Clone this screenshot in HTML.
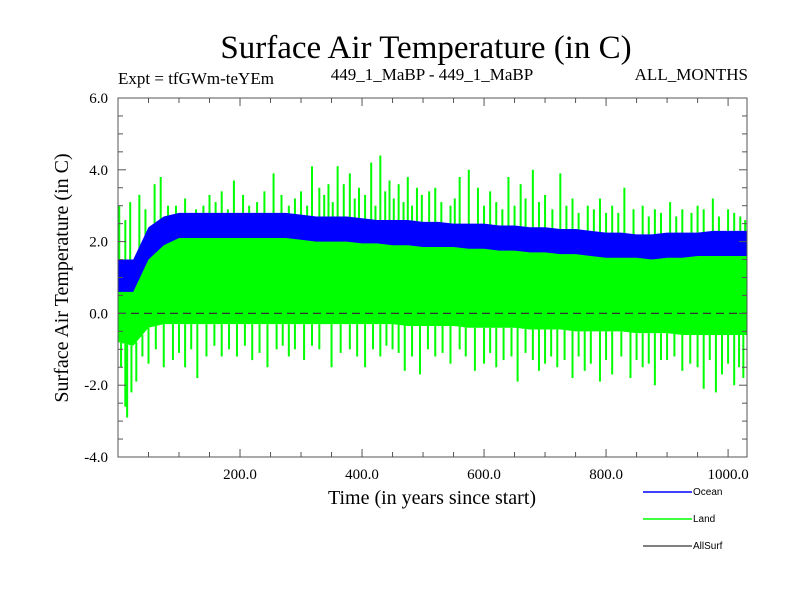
<!DOCTYPE html>
<html><head><meta charset="utf-8"><style>
body{margin:0;background:#fff}
svg{display:block}
text{font-family:"Liberation Serif",serif;fill:#000}
</style></head><body>
<svg id="chart" width="800" height="600" viewBox="0 0 800 600">
<text x="426" y="58" font-size="33" text-anchor="middle">Surface Air Temperature (in C)</text>
<text x="118" y="84" font-size="17">Expt = tfGWm-teYEm</text>
<text x="432" y="80" font-size="17" text-anchor="middle">449_1_MaBP - 449_1_MaBP</text>
<text x="748" y="80" font-size="17" text-anchor="end">ALL_MONTHS</text>
<text transform="translate(68,278) rotate(-90)" font-size="20" text-anchor="middle">Surface Air Temperature (in C)</text>
<text x="432" y="504" font-size="20" text-anchor="middle">Time (in years since start)</text>
<g id="plot"></g>
<g>
<line x1="643" y1="492" x2="692" y2="492" stroke="#0000ff" stroke-width="1.5"/>
<text x="693" y="495" font-size="10" style="font-family:'Liberation Sans',sans-serif">Ocean</text>
<line x1="643" y1="519" x2="692" y2="519" stroke="#00ff00" stroke-width="1.5"/>
<text x="693" y="522" font-size="10" style="font-family:'Liberation Sans',sans-serif">Land</text>
<line x1="643" y1="546" x2="692" y2="546" stroke="#000" stroke-width="1"/>
<text x="693" y="549" font-size="10" style="font-family:'Liberation Sans',sans-serif">AllSurf</text>
</g>
</svg>
<script>
const bandYears=[0,25,50,75,100,125,150,175,200,225,250,275,300,325,350,375,400,425,450,475,500,525,550,575,600,625,650,675,700,725,750,775,800,825,850,875,900,925,950,975,1000,1031];
const oceanHi=[1.5,1.5,2.4,2.7,2.8,2.8,2.8,2.8,2.8,2.8,2.8,2.8,2.75,2.7,2.7,2.7,2.65,2.6,2.6,2.6,2.55,2.55,2.5,2.5,2.5,2.45,2.45,2.4,2.4,2.35,2.35,2.3,2.25,2.25,2.2,2.2,2.25,2.25,2.25,2.3,2.3,2.3];
const oceanLo=[0.6,0.6,1.5,1.9,2.1,2.1,2.1,2.1,2.1,2.1,2.1,2.1,2.05,2.0,2.0,2.0,1.95,1.95,1.9,1.9,1.85,1.85,1.85,1.8,1.8,1.75,1.75,1.7,1.7,1.65,1.65,1.6,1.55,1.55,1.55,1.5,1.55,1.55,1.6,1.6,1.6,1.6];
const landHi=[1.2,1.1,1.8,2.1,2.2,2.2,2.2,2.2,2.2,2.2,2.2,2.2,2.15,2.1,2.1,2.1,2.05,2.05,2.0,2.0,1.95,1.95,1.95,1.9,1.9,1.85,1.85,1.8,1.8,1.75,1.75,1.7,1.65,1.65,1.65,1.6,1.65,1.65,1.7,1.7,1.7,1.7];
const landLo=[-0.8,-0.9,-0.4,-0.3,-0.3,-0.3,-0.3,-0.3,-0.3,-0.3,-0.3,-0.3,-0.3,-0.3,-0.3,-0.3,-0.3,-0.3,-0.3,-0.35,-0.35,-0.35,-0.35,-0.4,-0.4,-0.4,-0.4,-0.45,-0.45,-0.45,-0.5,-0.5,-0.5,-0.5,-0.55,-0.55,-0.55,-0.6,-0.6,-0.6,-0.6,-0.6];
const upYears=[2,20,35,60,70,95,110,150,170,190,205,240,255,268,300,318,330,345,360,370,380,395,415,430,445,460,475,490,510,520,560,575,590,610,640,660,680,700,725,745,770,790,810,830,860,880,905,925,950,975,1000,1020,
 12,45,82,128,140,160,180,215,228,280,290,310,338,352,388,405,422,438,452,468,482,498,530,545,552,600,620,630,650,668,690,712,735,755,780,800,820,845,870,890,915,940,960,985,1010,1028];
const upVals=[3.0,3.1,3.3,3.6,3.8,3.0,3.2,3.3,3.4,3.7,3.3,3.4,3.9,3.3,3.4,4.1,3.5,3.6,4.1,3.6,3.9,3.5,4.2,4.4,3.7,3.6,3.8,3.5,3.4,3.5,3.8,4.0,3.5,3.4,3.8,3.6,4.0,3.3,3.9,3.2,3.0,3.2,3.0,3.5,3.0,2.9,3.1,2.9,3.0,3.2,2.9,2.7,
 2.6,2.9,3.0,2.9,3.0,3.1,2.9,3.0,3.1,3.0,3.2,3.0,3.3,3.1,3.2,3.3,3.0,3.4,3.2,3.1,3.0,3.3,3.1,3.0,3.2,3.0,3.1,2.9,3.0,3.2,3.1,2.9,3.0,2.8,2.9,2.8,2.8,2.9,2.7,2.8,2.7,2.8,2.9,2.7,2.8,2.6];
const downYears=[5,12,15,22,30,50,75,90,110,130,145,170,195,220,245,260,290,305,350,380,405,430,450,470,495,520,545,560,585,600,620,655,690,700,720,745,765,790,810,840,860,880,900,925,960,980,990,1010,1025,
 40,62,100,120,158,182,208,232,270,280,318,330,365,392,418,440,460,482,508,532,570,610,632,645,668,680,710,732,755,775,800,825,850,870,890,912,938,950,970,1000,1018];
const downVals=[-1.5,-2.6,-2.9,-2.2,-1.9,-1.4,-1.5,-1.3,-1.5,-1.8,-1.2,-1.2,-1.2,-1.3,-1.5,-1.0,-1.0,-1.3,-1.5,-1.0,-1.5,-1.2,-1.0,-1.6,-1.7,-1.2,-1.4,-1.0,-1.6,-1.4,-1.5,-1.9,-1.6,-1.4,-1.5,-1.8,-1.6,-1.9,-1.7,-1.8,-1.5,-2.0,-1.3,-1.6,-2.1,-2.2,-1.7,-2.0,-1.8,
 -1.2,-1.0,-1.1,-1.0,-0.9,-1.0,-0.9,-1.1,-0.9,-1.2,-0.9,-1.0,-1.1,-1.2,-1.0,-0.9,-1.1,-1.2,-1.0,-1.1,-1.2,-1.1,-1.3,-1.2,-1.1,-1.3,-1.2,-1.3,-1.2,-1.4,-1.3,-1.2,-1.3,-1.4,-1.3,-1.2,-1.4,-1.5,-1.3,-1.4,-1.5];
const yTicks=[-4,-2,0,2,4,6];
const yTickLabels=["-4.0","-2.0","0.0","2.0","4.0","6.0"];
const xTicks=[200,400,600,800,1000];
const xTickLabels=["200.0","400.0","600.0","800.0","1000.0"];

const X0=118,X1=747,Y0=98,Y1=457,XMAX=1031,YMIN=-4,YMAX=6;
const sx=v=>X0+(v/XMAX)*(X1-X0);
const sy=v=>Y1-(v-YMIN)/(YMAX-YMIN)*(Y1-Y0);
const NS="http://www.w3.org/2000/svg";
const plot=document.getElementById('plot');
function mk(t,a){const e=document.createElementNS(NS,t);for(const k in a)e.setAttribute(k,a[k]);plot.appendChild(e);return e;}
function bandPath(hi,lo){let d="";bandYears.forEach((y,i)=>{d+=(i?"L":"M")+sx(y)+","+sy(hi[i]);});for(let i=bandYears.length-1;i>=0;i--)d+="L"+sx(bandYears[i])+","+sy(lo[i]);return d+"Z";}
function interp(arr,yr){for(let i=1;i<bandYears.length;i++){if(yr<=bandYears[i]){const t=(yr-bandYears[i-1])/(bandYears[i]-bandYears[i-1]);return arr[i-1]+t*(arr[i]-arr[i-1]);}}return arr[arr.length-1];}

const lb=mk('path',{d:bandPath(landHi,landLo),fill:'#00ff00'});


upYears.forEach((yr,i)=>{const l=mk('line',{x1:sx(yr),x2:sx(yr),y1:sy(interp(landHi,yr)),y2:sy(upVals[i]),stroke:'#00ff00','stroke-width':2});

});
downYears.forEach((yr,i)=>{const l=mk('line',{x1:sx(yr),x2:sx(yr),y1:sy(interp(landLo,yr)),y2:sy(downVals[i]),stroke:'#00ff00','stroke-width':2});

});
const ob=mk('path',{d:bandPath(oceanHi,oceanLo),fill:'#0000ff'});


const zl=mk('line',{x1:X0,x2:X1,y1:sy(0),y2:sy(0),stroke:'#333','stroke-width':1.2,'stroke-dasharray':'8,5'});


const fr=mk('rect',{x:X0,y:Y0,width:X1-X0,height:Y1-Y0,fill:'none',stroke:'#555','stroke-width':1});


for(let v=YMIN;v<=YMAX;v+=0.5){const maj=Math.abs(v%2)<1e-9;const L=maj?8:5;
mk('line',{x1:X0,x2:X0+L,y1:sy(v),y2:sy(v),stroke:'#555'});mk('line',{x1:X1-L,x2:X1,y1:sy(v),y2:sy(v),stroke:'#555'});}
for(let v=50;v<XMAX;v+=50){const maj=v%200===0;const L=maj?8:5;
mk('line',{x1:sx(v),x2:sx(v),y1:Y1,y2:Y1-L,stroke:'#555'});mk('line',{x1:sx(v),x2:sx(v),y1:Y0,y2:Y0+L,stroke:'#555'});}
yTicks.forEach((v,i)=>{const t=mk('text',{x:108,y:sy(v)+5,'font-size':15,'text-anchor':'end'});t.textContent=yTickLabels[i];

});
xTicks.forEach((v,i)=>{const t=mk('text',{x:sx(v),y:479,'font-size':15,'text-anchor':'middle'});t.textContent=xTickLabels[i];

});
</script>
</body></html>
